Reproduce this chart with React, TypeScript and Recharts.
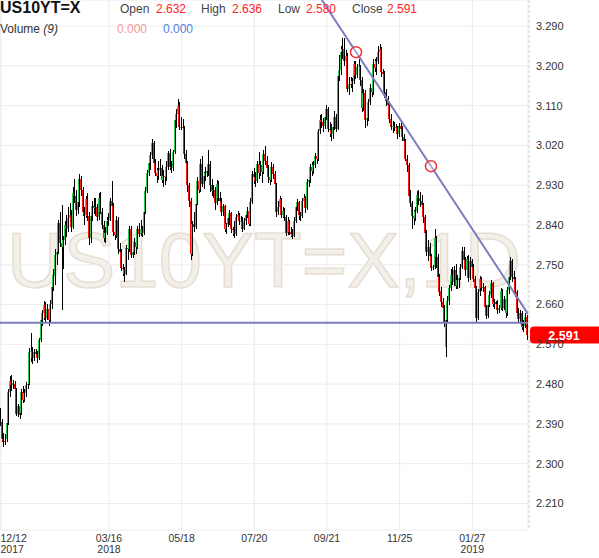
import React from "react";
import {
  Bar,
  CartesianGrid,
  ComposedChart,
  ReferenceDot,
  ReferenceLine,
  XAxis,
  YAxis,
} from "recharts";

// daily candles, yield x1000: [open, high, low, close]
type Candle = [number, number, number, number];

const dec17: Candle[] = [
  [2410, 2425, 2385, 2395], [2395, 2402, 2348, 2355], [2355, 2370, 2338, 2352], [2352, 2368, 2342, 2350],
  [2355, 2398, 2350, 2392], [2392, 2470, 2388, 2462], [2462, 2498, 2450, 2488], [2488, 2500, 2465, 2478],
  [2478, 2490, 2470, 2482], [2480, 2488, 2462, 2468], [2468, 2472, 2408, 2412], [2412, 2435, 2405, 2430],
  [2430, 2440, 2402, 2410],
];
const jan18: Candle[] = [
  [2415, 2470, 2410, 2462], [2462, 2475, 2438, 2445], [2445, 2468, 2440, 2460], [2460, 2485, 2452, 2478],
  [2478, 2490, 2468, 2480], [2480, 2562, 2478, 2552], [2552, 2595, 2530, 2555], [2555, 2565, 2525, 2540],
  [2540, 2560, 2532, 2552], [2552, 2560, 2540, 2548], [2548, 2555, 2528, 2540], [2540, 2585, 2535, 2580],
  [2580, 2630, 2575, 2625], [2625, 2648, 2612, 2640], [2640, 2668, 2625, 2660], [2660, 2665, 2620, 2630],
  [2630, 2662, 2625, 2650], [2650, 2655, 2612, 2625], [2625, 2670, 2620, 2662], [2662, 2722, 2650, 2700],
  [2700, 2740, 2690, 2728], [2725, 2785, 2705, 2772],
];
const feb18: Candle[] = [
  [2772, 2792, 2750, 2780], [2780, 2852, 2775, 2845], [2845, 2870, 2790, 2800], [2800, 2885, 2648, 2790],
  [2790, 2815, 2740, 2805], [2805, 2848, 2795, 2840], [2840, 2862, 2812, 2832], [2832, 2880, 2825, 2855],
  [2855, 2890, 2850, 2862], [2862, 2875, 2825, 2835], [2835, 2925, 2830, 2912], [2912, 2945, 2890, 2905],
  [2905, 2920, 2860, 2875], [2875, 2905, 2865, 2892], [2892, 2955, 2880, 2945], [2945, 2950, 2905, 2920],
  [2920, 2925, 2860, 2870], [2870, 2880, 2840, 2862], [2862, 2905, 2855, 2898], [2898, 2912, 2850, 2860],
];
const mar18: Candle[] = [
  [2860, 2870, 2795, 2810], [2810, 2868, 2800, 2860], [2860, 2895, 2850, 2882], [2882, 2902, 2865, 2878],
  [2878, 2900, 2860, 2880], [2880, 2888, 2850, 2858], [2858, 2912, 2852, 2900], [2900, 2915, 2865, 2870],
  [2870, 2878, 2830, 2840], [2840, 2848, 2802, 2810], [2810, 2835, 2800, 2822], [2822, 2858, 2818, 2850],
  [2850, 2868, 2838, 2852], [2852, 2900, 2848, 2895], [2895, 2940, 2868, 2882], [2882, 2890, 2815, 2825],
  [2825, 2842, 2805, 2818], [2818, 2860, 2810, 2852], [2852, 2858, 2775, 2785], [2785, 2800, 2765, 2778],
  [2778, 2785, 2735, 2742], [2742, 2752, 2725, 2740],
];
const apr18: Candle[] = [
  [2740, 2745, 2712, 2730], [2730, 2795, 2728, 2788], [2788, 2798, 2760, 2785], [2785, 2838, 2780, 2830],
  [2830, 2838, 2765, 2772], [2772, 2795, 2765, 2780], [2780, 2810, 2772, 2802], [2802, 2808, 2775, 2790],
  [2790, 2838, 2785, 2830], [2830, 2845, 2812, 2820], [2820, 2852, 2815, 2830], [2830, 2838, 2812, 2822],
  [2822, 2875, 2818, 2870], [2870, 2925, 2865, 2918], [2918, 2965, 2912, 2958], [2958, 2995, 2950, 2980],
  [2980, 3005, 2965, 2998], [2998, 3035, 2990, 3025], [3025, 3030, 2970, 2980], [2980, 2990, 2950, 2958],
  [2958, 2968, 2935, 2950],
];
const may18: Candle[] = [
  [2950, 2985, 2942, 2965], [2965, 2990, 2950, 2968], [2968, 2975, 2935, 2942], [2942, 2965, 2925, 2950],
  [2950, 2962, 2930, 2948], [2948, 2985, 2940, 2972], [2972, 3008, 2965, 3002], [3002, 3012, 2965, 2972],
  [2972, 2985, 2958, 2968], [2968, 3010, 2962, 3005], [3005, 3085, 3000, 3078], [3078, 3102, 3060, 3092],
  [3092, 3125, 3085, 3110], [3110, 3118, 3055, 3062], [3062, 3085, 3055, 3062], [3062, 3080, 3045, 3060],
  [3060, 3065, 2990, 3000], [3000, 3010, 2965, 2980], [2980, 2985, 2915, 2930], [2930, 2935, 2880, 2895],
  [2895, 2900, 2760, 2775], [2775, 2850, 2770, 2842], [2842, 2870, 2825, 2835],
];
const jun18: Candle[] = [
  [2835, 2895, 2830, 2888], [2888, 2948, 2885, 2940], [2940, 2950, 2912, 2920], [2920, 2990, 2915, 2978],
  [2978, 2995, 2925, 2932], [2932, 2960, 2922, 2950], [2950, 2972, 2940, 2958], [2958, 2975, 2948, 2962],
  [2962, 3010, 2950, 2978], [2978, 2985, 2915, 2930], [2930, 2945, 2905, 2918], [2918, 2930, 2900, 2920],
  [2920, 2925, 2875, 2890], [2890, 2942, 2885, 2932], [2932, 2940, 2895, 2900], [2900, 2915, 2885, 2895],
  [2895, 2900, 2860, 2870], [2870, 2888, 2860, 2882], [2882, 2885, 2825, 2832], [2832, 2845, 2820, 2842],
  [2842, 2865, 2835, 2855],
];
const jul18: Candle[] = [
  [2855, 2875, 2840, 2868], [2868, 2870, 2822, 2830], [2830, 2835, 2815, 2828], [2828, 2848, 2810, 2820],
  [2820, 2865, 2815, 2858], [2858, 2872, 2848, 2862], [2862, 2868, 2840, 2848], [2848, 2860, 2835, 2850],
  [2850, 2858, 2825, 2832], [2832, 2855, 2828, 2848], [2848, 2870, 2840, 2862], [2862, 2880, 2855, 2872],
  [2872, 2878, 2838, 2842], [2842, 2900, 2838, 2892], [2892, 2962, 2888, 2955], [2955, 2968, 2932, 2948],
  [2948, 2960, 2925, 2940], [2940, 2985, 2935, 2978], [2978, 3005, 2945, 2958], [2958, 2985, 2950, 2975],
  [2975, 2980, 2935, 2960], [2960, 3010, 2955, 3000],
];
const aug18: Candle[] = [
  [3000, 3018, 2975, 2985], [2985, 2995, 2958, 2968], [2968, 2975, 2935, 2948], [2948, 2960, 2930, 2942],
  [2942, 2982, 2938, 2972], [2972, 2978, 2945, 2955], [2955, 2962, 2925, 2932], [2932, 2935, 2858, 2870],
  [2870, 2895, 2862, 2880], [2880, 2905, 2872, 2898], [2898, 2900, 2855, 2862], [2862, 2880, 2855, 2872],
  [2872, 2878, 2848, 2858], [2858, 2862, 2815, 2822], [2822, 2858, 2818, 2850], [2850, 2852, 2818, 2825],
  [2825, 2835, 2812, 2820], [2820, 2830, 2808, 2815], [2815, 2858, 2812, 2850], [2850, 2885, 2845, 2880],
  [2880, 2898, 2872, 2892], [2892, 2895, 2852, 2862], [2862, 2870, 2848, 2860],
];
const sep18: Candle[] = [
  [2860, 2902, 2855, 2895], [2895, 2910, 2880, 2900], [2900, 2905, 2868, 2878], [2878, 2945, 2875, 2938],
  [2938, 2950, 2925, 2942], [2942, 2978, 2935, 2972], [2972, 2982, 2950, 2962], [2962, 2985, 2955, 2975],
  [2975, 3002, 2968, 2995], [2995, 3005, 2978, 2990], [2990, 3058, 2985, 3052], [3052, 3088, 3045, 3078],
  [3078, 3092, 3060, 3072], [3072, 3082, 3050, 3065], [3065, 3095, 3058, 3085], [3085, 3112, 3078, 3102],
  [3102, 3108, 3050, 3058], [3058, 3072, 3040, 3055], [3055, 3068, 3030, 3045], [3045, 3072, 3035, 3062],
];
const oct18: Candle[] = [
  [3062, 3098, 3055, 3085], [3085, 3090, 3050, 3058], [3058, 3190, 3055, 3178], [3178, 3225, 3165, 3190],
  [3190, 3245, 3180, 3232], [3232, 3262, 3215, 3238], [3238, 3262, 3200, 3210], [3210, 3235, 3195, 3222],
  [3222, 3228, 3140, 3148], [3148, 3175, 3135, 3160], [3160, 3175, 3150, 3158], [3158, 3172, 3140, 3165],
  [3165, 3212, 3160, 3205], [3205, 3210, 3170, 3180], [3180, 3205, 3172, 3198], [3198, 3215, 3188, 3200],
  [3200, 3202, 3155, 3168], [3168, 3175, 3095, 3105], [3105, 3148, 3098, 3138], [3138, 3145, 3060, 3078],
  [3078, 3095, 3065, 3082], [3082, 3125, 3075, 3118], [3118, 3158, 3112, 3150],
];
const nov18: Candle[] = [
  [3150, 3168, 3130, 3140], [3140, 3215, 3135, 3205], [3205, 3215, 3185, 3195], [3195, 3220, 3180, 3210],
  [3210, 3245, 3205, 3232], [3232, 3250, 3222, 3238], [3238, 3242, 3175, 3185], [3185, 3192, 3170, 3182],
  [3182, 3188, 3128, 3140], [3140, 3148, 3110, 3120], [3120, 3132, 3100, 3112], [3112, 3118, 3070, 3080],
  [3080, 3090, 3055, 3062], [3062, 3075, 3048, 3065], [3065, 3072, 3052, 3060], [3060, 3068, 3055, 3062],
  [3062, 3065, 3035, 3045], [3045, 3070, 3040, 3065], [3065, 3072, 3050, 3058], [3058, 3065, 3030, 3040],
  [3040, 3045, 3010, 3030], [3030, 3035, 2985, 2990],
];
const dec18: Candle[] = [
  [2990, 2998, 2960, 2975], [2975, 2980, 2895, 2905], [2905, 2920, 2880, 2890], [2890, 2895, 2830, 2860],
  [2860, 2875, 2840, 2855], [2855, 2880, 2848, 2872], [2872, 2918, 2868, 2908], [2908, 2920, 2885, 2900],
  [2900, 2915, 2880, 2895], [2895, 2908, 2878, 2885], [2885, 2890, 2845, 2858], [2858, 2862, 2810, 2822],
  [2822, 2828, 2770, 2778], [2778, 2805, 2758, 2790], [2790, 2800, 2752, 2770], [2770, 2775, 2735, 2742],
  [2742, 2750, 2738, 2745], [2745, 2830, 2740, 2810], [2810, 2815, 2742, 2768], [2768, 2775, 2715, 2722],
  [2722, 2730, 2680, 2688],
];
const jan19: Candle[] = [
  [2690, 2700, 2655, 2665], [2665, 2675, 2640, 2652], [2652, 2660, 2610, 2620], [2565, 2640, 2542, 2625],
  [2625, 2680, 2620, 2668], [2668, 2705, 2660, 2698], [2698, 2740, 2690, 2728], [2728, 2745, 2705, 2712],
  [2712, 2748, 2702, 2738], [2738, 2752, 2695, 2702], [2702, 2728, 2695, 2715], [2715, 2732, 2698, 2720],
  [2720, 2752, 2715, 2745], [2745, 2790, 2740, 2782], [2782, 2790, 2752, 2760], [2760, 2768, 2725, 2738],
  [2738, 2770, 2730, 2762], [2762, 2772, 2710, 2720], [2720, 2768, 2715, 2758], [2758, 2762, 2728, 2745],
  [2745, 2752, 2712, 2718], [2718, 2725, 2688, 2698], [2698, 2702, 2620, 2630],
];
const feb19: Candle[] = [
  [2630, 2695, 2625, 2688], [2688, 2725, 2680, 2718], [2718, 2722, 2690, 2698], [2698, 2708, 2688, 2700],
  [2700, 2702, 2650, 2655], [2655, 2660, 2628, 2635], [2635, 2668, 2630, 2660], [2660, 2690, 2655, 2682],
  [2682, 2715, 2675, 2708], [2708, 2712, 2655, 2662], [2662, 2672, 2650, 2665], [2665, 2668, 2658, 2662],
  [2662, 2670, 2638, 2648], [2648, 2660, 2640, 2652], [2652, 2698, 2648, 2690], [2690, 2695, 2645, 2652],
  [2652, 2680, 2648, 2672], [2672, 2675, 2630, 2640], [2640, 2700, 2635, 2692], [2692, 2730, 2685, 2722],
];
const mar19: Candle[] = [
  [2722, 2768, 2715, 2758], [2758, 2762, 2712, 2722], [2722, 2735, 2705, 2718], [2718, 2722, 2678, 2688],
  [2688, 2692, 2632, 2640], [2640, 2652, 2618, 2628], [2628, 2648, 2615, 2640], [2640, 2645, 2602, 2610],
  [2610, 2625, 2598, 2612], [2612, 2640, 2608, 2632], [2632, 2636, 2580, 2591],
];

const xTicks = [0, 67, 112, 157, 202, 247, 292];
const xTickDates = ["12/12", "03/16", "05/18", "07/20", "09/21", "11/25", "01/27"];
const xTickYears = ["2017", "2018", "", "", "", "", "2019"];
const yTicks = [2.21, 2.3, 2.39, 2.48, 2.57, 2.66, 2.75, 2.84, 2.93, 3.02, 3.11, 3.2, 3.29];

const supportLevel = 2.619;
const trendEnds = [
  { i: 198.8, v: 3.349 },
  { i: 326.5, v: 2.639 },
];
const trendMarks = [
  { i: 220, v: 3.231 },
  { i: 266.4, v: 2.973 },
];

const candles = [
  dec17, jan18, feb18, mar18, apr18, may18, jun18, jul18,
  aug18, sep18, oct18, nov18, dec18, jan19, feb19, mar19,
].flat();

const data = candles.map(([o, h, l, c], i) => ({
  i,
  o: o / 1000,
  h: h / 1000,
  l: l / 1000,
  c: c / 1000,
  range: [l / 1000, h / 1000],
}));

const last = data[data.length - 1];

const LINE = "#7b7dbd";
const UP = "#2ecc55";
const DOWN = "#ff1414";
const FONT = '"Liberation Sans", Arial, sans-serif';

function CandleShape(props: any) {
  const { x, y, width, height, payload } = props;
  if (x == null || y == null) return null;
  const top = Math.min(y, y + height);
  const span = Math.abs(height);
  const { o, h, l, c } = payload;
  const k = h > l ? span / (h - l) : 0;
  const py = (v: number) => top + (h - v) * k;
  const cx = Math.round(x + width / 2 - 0.5);
  const bTop = py(Math.max(o, c));
  const bH = Math.max(1, Math.abs(py(o) - py(c)));
  // body 2px wide, black wick drawn over one column of it
  return (
    <g shapeRendering="crispEdges">
      <rect x={cx - 1} y={bTop} width={2} height={bH} fill={c >= o ? UP : DOWN} />
      <rect x={cx} y={top} width={1} height={Math.max(1, span)} fill="#000" />
    </g>
  );
}

function XTick(props: any) {
  const { x, payload, index } = props;
  const first = index === 0;
  const tx = first ? 0.5 : x;
  const anchor = first ? "start" : "middle";
  return (
    <g fontFamily={FONT} fontSize={10.5} fill="#333">
      <text x={tx} y={542} textAnchor={anchor}>
        {xTickDates[index] ?? String(payload.value)}
      </text>
      {xTickYears[index] ? (
        <text x={tx} y={552.5} textAnchor={anchor}>
          {xTickYears[index]}
        </text>
      ) : null}
    </g>
  );
}

function PriceTag(props: any) {
  const vb = props.viewBox || {};
  const y = vb.y ?? 0;
  const x0 = (vb.x ?? 0) + (vb.width ?? 0) + 2;
  return (
    <g>
      <rect x={x0} y={y - 8.5} width={75} height={17} rx={4} fill="#ff0000" />
      <text
        x={x0 + 34}
        y={y + 4.5}
        textAnchor="middle"
        fill="#fff"
        fontWeight="bold"
        fontSize={12.5}
        fontFamily={FONT}
      >
        {last.c.toFixed(3)}
      </text>
    </g>
  );
}

export default function App() {
  return (
    <div
      style={{
        position: "absolute",
        left: 0,
        top: 0,
        width: 599,
        height: 558,
        background: "#fff",
        fontFamily: FONT,
        overflow: "hidden",
      }}
    >
      {/* watermark */}
      <svg width={599} height={558} style={{ position: "absolute", left: 0, top: 0 }}>
        <text
          x={7}
          y={287}
          fontSize={78}
          fontFamily={FONT}
          fill="#f3efe9"
          stroke="#e6ded2"
          strokeWidth={1.5}
        >
          US10YT=X,1D
        </text>
      </svg>

      <div style={{ position: "absolute", left: 0, top: 0 }}>
        <ComposedChart
          width={599}
          height={558}
          data={data}
          margin={{ top: 0, right: 0, bottom: 0, left: 0 }}
        >
          <CartesianGrid stroke="#ececec" />
          <XAxis
            dataKey="i"
            type="number"
            domain={[-0.5, data.length - 0.5]}
            allowDataOverflow
            ticks={xTicks}
            interval={0}
            height={28}
            tickLine={false}
            axisLine={false}
            tickSize={0}
            tick={<XTick />}
          />
          <YAxis
            orientation="right"
            domain={[2.15, 3.349]}
            allowDataOverflow
            ticks={yTicks}
            interval={0}
            width={71}
            tickLine={false}
            axisLine={false}
            tick={{ fill: "#333", fontSize: 11, fontFamily: FONT }}
            tickFormatter={(v: number) => v.toFixed(3)}
          />
          <Bar dataKey="range" shape={<CandleShape />} isAnimationActive={false} />
          <ReferenceLine y={supportLevel} stroke={LINE} strokeWidth={2} />
          <ReferenceLine
            segment={[
              { x: trendEnds[0].i, y: trendEnds[0].v },
              { x: trendEnds[1].i, y: trendEnds[1].v },
            ]}
            stroke={LINE}
            strokeWidth={2}
          />
          {trendMarks.map((m) => (
            <ReferenceDot
              key={m.i}
              x={m.i}
              y={m.v}
              r={5.5}
              fill="rgba(255,255,255,0.35)"
              stroke="#ee3333"
              strokeWidth={1.5}
            />
          ))}
          <ReferenceLine y={last.c} stroke="none" label={<PriceTag />} />
        </ComposedChart>
      </div>

      {/* axis separator */}
      <div
        style={{
          position: "absolute",
          left: 528,
          top: 0,
          width: 2,
          height: 530,
          background: "repeating-linear-gradient(180deg, #e6e6e6 0 3px, transparent 3px 5px)",
        }}
      />

      {/* header */}
      <svg
        width={599}
        height={40}
        style={{ position: "absolute", left: 0, top: 0, pointerEvents: "none" }}
        fontFamily={FONT}
      >
        <text x={0} y={13} fontSize={16} fontWeight="bold" fill="#111">
          US10YT=X
        </text>
        <g fontSize={12}>
          <text x={120} y={13} fill="#444">Open</text>
          <text x={156} y={13} fill="#ff2424">{last.o.toFixed(3)}</text>
          <text x={201} y={13} fill="#444">High</text>
          <text x={232} y={13} fill="#ff2424">{last.h.toFixed(3)}</text>
          <text x={278} y={13} fill="#444">Low</text>
          <text x={306} y={13} fill="#ff2424">{last.l.toFixed(3)}</text>
          <text x={352} y={13} fill="#444">Close</text>
          <text x={387} y={13} fill="#ff2424">{last.c.toFixed(3)}</text>
          <text x={0} y={33} fill="#333">
            Volume <tspan fontStyle="italic">(9)</tspan>
          </text>
          <text x={117} y={33} fill="#f39a9a">0.000</text>
          <text x={163} y={33} fill="#4f84dc">0.000</text>
        </g>
      </svg>
    </div>
  );
}
